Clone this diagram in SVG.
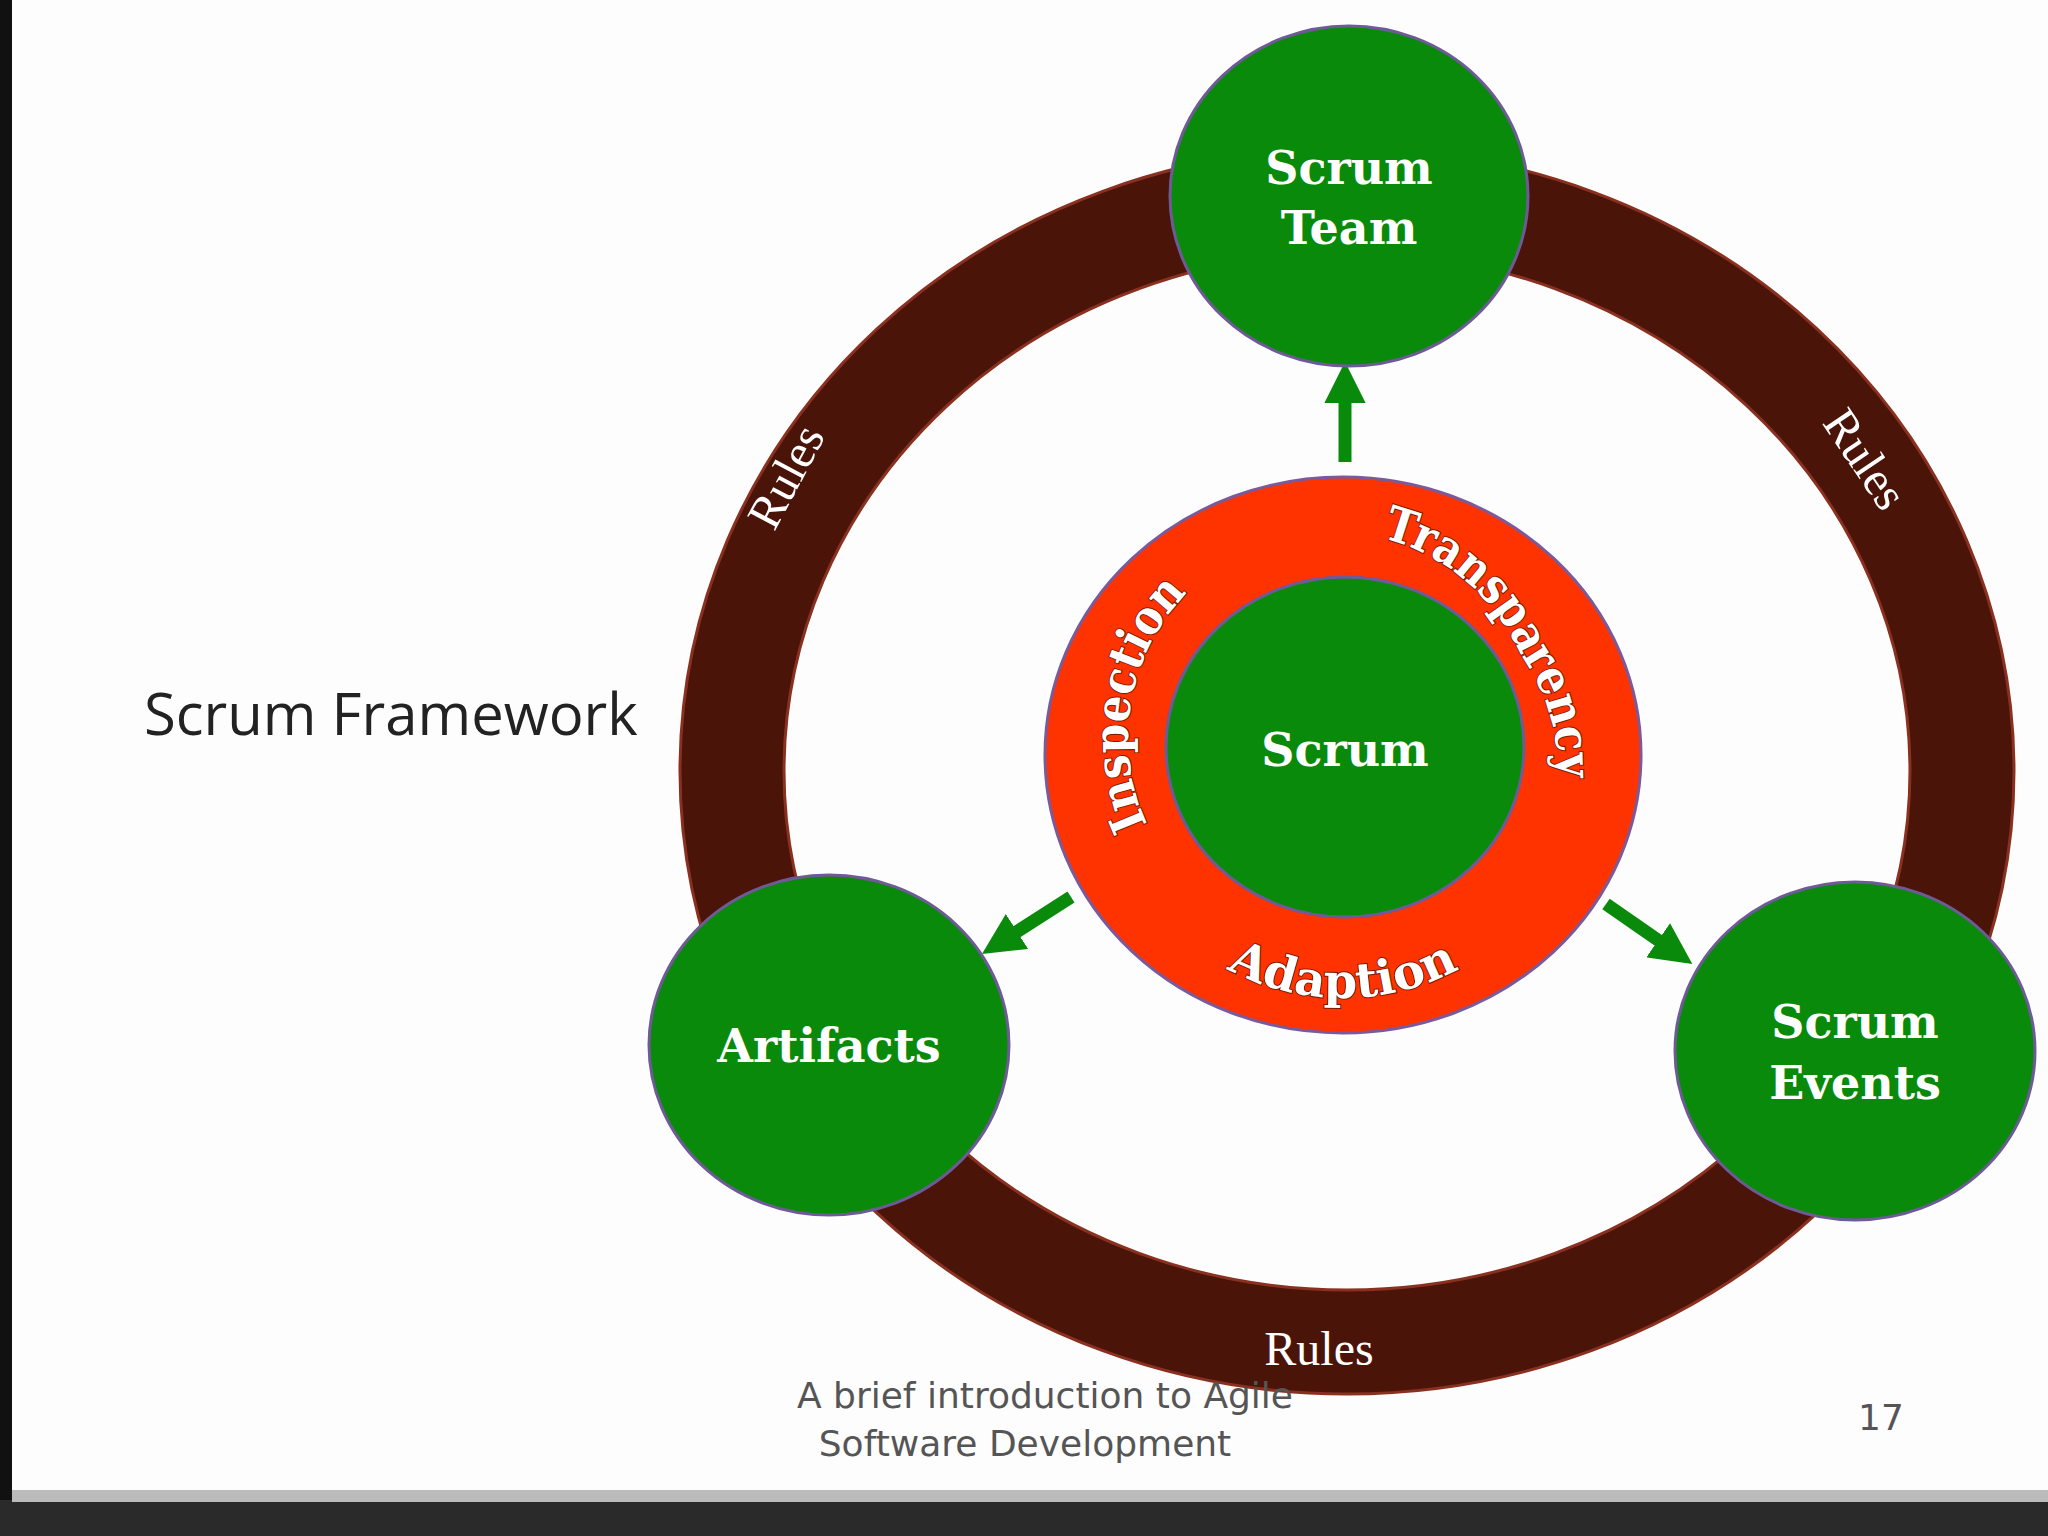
<svg xmlns="http://www.w3.org/2000/svg" width="2048" height="1536" viewBox="0 0 2048 1536">
<defs>
<style>
.node{fill:#0a8a0a;stroke:#6e5a96;stroke-width:3}
.lbl{font-family:"DejaVu Serif","Liberation Serif",serif;font-weight:bold;font-size:46px;fill:#fff;text-anchor:middle}
.rules{font-family:"Liberation Serif",serif;font-size:48px;fill:#fff;text-anchor:middle}
.curve{font-family:"DejaVu Serif",serif;font-weight:bold;font-size:48px;fill:#fff;stroke:#7a1a00;stroke-width:2;paint-order:stroke}
.arr{stroke:#0a8a0a;stroke-width:13;fill:none}
</style>
<marker id="ah" viewBox="0 0 10 10" refX="2" refY="5" markerWidth="3.2" markerHeight="3.2" orient="auto"><path d="M0,0 L10,5 L0,10 z" fill="#0a8a0a"/></marker>
<path id="topArc" d="M1165.5 855.5 A205 205 0 1 1 1520.5 654.5 A205 205 0 1 1 1165.5 855.5"/>
<path id="botArc" d="M1098 753 A245 245 0 0 0 1588 753"/>
</defs>
<rect width="2048" height="1536" fill="#fdfdfd"/>
<rect x="0" y="0" width="12" height="1536" fill="#111"/>
<rect x="0" y="1500" width="2048" height="36" fill="#2a2a2a"/>
<rect x="12" y="1490" width="2036" height="12" fill="#bbb"/>
<text x="144" y="735" font-family="Open Sans,Liberation Sans,sans-serif" font-size="58" fill="#222">Scrum Framework</text>
<g id="ring">
<ellipse cx="1347" cy="771" rx="615" ry="571" fill="none" stroke="#8a3020" stroke-width="107"/>
<ellipse cx="1347" cy="771" rx="615" ry="571" fill="none" stroke="#4a1408" stroke-width="101"/>
<text class="rules" transform="translate(800,484) rotate(-62)">Rules</text>
<text class="rules" transform="translate(1852,468) rotate(56)">Rules</text>
<text class="rules" x="1319" y="1365">Rules</text>
</g>
<g id="connectors">
<line class="arr" x1="1345" y1="462" x2="1345" y2="395" marker-end="url(#ah)"/>
<line class="arr" x1="1071" y1="897" x2="1010" y2="936" marker-end="url(#ah)"/>
<line class="arr" x1="1606" y1="904" x2="1665" y2="945" marker-end="url(#ah)"/>
</g>
<g id="core">
<ellipse cx="1343" cy="755" rx="298" ry="278" fill="#ff3300" stroke="#7a5a9a" stroke-width="3"/>
<ellipse class="node" cx="1345" cy="747" rx="179" ry="170"/>
<text class="lbl" x="1345" y="766">Scrum</text>
<text class="curve"><textPath href="#topArc" startOffset="36" textLength="250" lengthAdjust="spacingAndGlyphs">Inspection</textPath></text>
<text class="curve"><textPath href="#topArc" startOffset="497" textLength="319" lengthAdjust="spacingAndGlyphs">Transparency</textPath></text>
<text class="curve"><textPath href="#botArc" startOffset="50%" text-anchor="middle">Adaption</textPath></text>
</g>
<g id="team">
<ellipse class="node" cx="1349" cy="196" rx="179" ry="170"/>
<text class="lbl" x="1349" y="184">Scrum</text>
<text class="lbl" x="1349" y="244">Team</text>
</g>
<g id="artifacts">
<ellipse class="node" cx="829" cy="1045" rx="180" ry="170"/>
<text class="lbl" x="829" y="1062">Artifacts</text>
</g>
<g id="events">
<ellipse class="node" cx="1855" cy="1051" rx="180" ry="169"/>
<text class="lbl" x="1855" y="1038">Scrum</text>
<text class="lbl" x="1855" y="1099">Events</text>
</g>
<g font-family="DejaVu Sans,sans-serif" font-size="36" fill="#555" text-anchor="middle">
<text x="1045" y="1408">A brief introduction to Agile</text>
<text x="1025" y="1456">Software Development</text>
<text x="1881" y="1430">17</text>
</g>
</svg>
